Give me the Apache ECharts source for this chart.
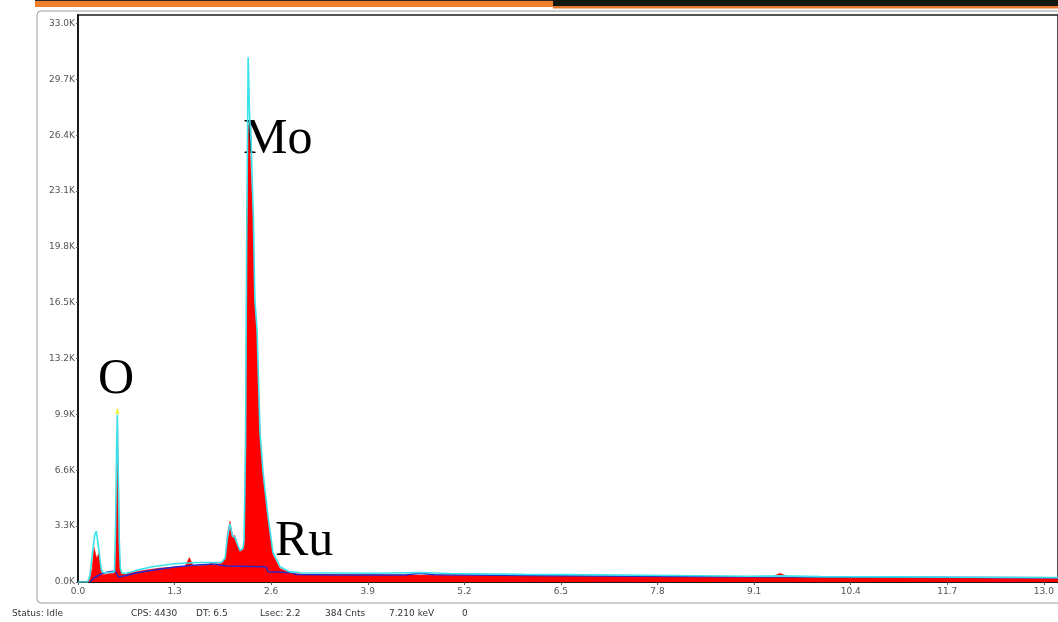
<!DOCTYPE html>
<html>
<head>
<meta charset="utf-8">
<script src="https://cdn.jsdelivr.net/npm/echarts@6/dist/echarts.min.js"></script>
<style>html,body{margin:0;padding:0;background:#fff;}#c{width:1058px;height:622px;}</style>
</head>
<body>
<div id="c"></div>
<script>
// ---- Data (energy keV, counts) ----
const specEnergy = [0.00,0.13,0.16,0.19,0.215,0.235,0.25,0.27,0.285,0.30,0.32,0.36,0.42,0.48,0.50,0.515,0.53,0.545,0.56,0.58,0.62,0.70,0.90,1.10,1.30,1.44,1.50,1.55,1.65,1.75,1.80,1.82,1.85,1.93,1.98,2.01,2.045,2.08,2.11,2.14,2.18,2.22,2.24,2.26,2.275,2.29,2.31,2.33,2.36,2.38,2.41,2.45,2.49,2.557,2.624,2.72,2.85,3.00,3.50,4.00,4.50,5.00,6.00,7.00,8.00,9.00,9.33,9.45,9.57,10.0,11.0,12.0,13.19];
const specCounts = [0,0,150,800,2050,1700,1400,1600,1750,900,450,450,500,520,700,5000,9800,6000,1500,500,450,550,700,820,880,920,1450,950,980,1000,1150,1020,1050,1100,1350,2800,3600,2700,2750,2300,1800,1900,2200,12000,21000,27000,26000,24000,21300,16400,14700,8700,6300,3700,1600,800,550,470,450,430,420,400,380,350,330,300,290,520,290,270,250,230,200];

const fitEnergy = [0.00,0.13,0.16,0.20,0.225,0.245,0.27,0.295,0.315,0.34,0.40,0.49,0.505,0.52,0.53,0.54,0.555,0.57,0.59,0.64,0.80,1.00,1.30,1.60,1.80,1.93,1.98,2.01,2.045,2.08,2.11,2.14,2.18,2.22,2.235,2.255,2.27,2.29,2.31,2.33,2.36,2.38,2.41,2.45,2.49,2.557,2.624,2.72,2.85,3.00,4.00,4.60,5.00,6.00,7.00,8.00,9.00,9.45,10.0,11.0,12.0,13.19];
const fitCounts = [0,0,400,1900,2800,3000,2300,1400,700,560,550,600,3000,8000,9900,7000,2500,800,550,500,700,900,1080,1150,1150,1150,1400,2600,3450,2700,2650,2300,1850,2000,2500,8000,20000,31000,27500,26000,21600,16700,14900,8800,6500,3900,1750,900,600,550,520,560,500,450,420,380,340,360,320,300,280,270];

const bgEnergy = [0.16,0.22,0.32,0.42,0.50,0.545,0.62,0.80,1.00,1.30,1.60,1.85,1.90,2.00,2.53,2.56,2.88,2.93,3.50,4.40,4.60,4.80,6.00,8.00,10.0,13.19];
const bgCounts = [0,250,500,600,650,300,350,550,700,880,1000,1070,1000,940,900,600,550,450,420,420,520,430,380,330,290,250];

const yTickStep = 3300;
const xTickStep = 1.3;

const zip = (a, b) => a.map((v, i) => [v, b[i]]);

const chart = echarts.init(document.getElementById('c'), null, {renderer: 'canvas'});
const labelFont = 'DejaVu Sans';
const option = {
  animation: false,
  backgroundColor: '#fff',
  grid: {left: 78, top: 15, right: 0, bottom: 40, show: true, borderColor: '#1a1a1a', borderWidth: 1.5, backgroundColor: '#fff'},
  xAxis: {
    type: 'value', min: 0, max: 13.19, interval: xTickStep,
    axisLine: {show: true, onZero: false, lineStyle: {color: '#1a1a1a', width: 2}},
    axisTick: {show: true, length: 3, lineStyle: {color: '#555'}},
    axisLabel: {showMaxLabel: false, color: '#555', fontSize: 9, fontFamily: labelFont, margin: 5,
      formatter: v => v.toFixed(1)},
    splitLine: {show: false}
  },
  yAxis: {
    type: 'value', min: 0, max: 33500, interval: yTickStep,
    axisLine: {show: true, lineStyle: {color: '#1a1a1a', width: 2}},
    axisTick: {show: true, length: 2, lineStyle: {color: '#555'}},
    axisLabel: {showMaxLabel: false, color: '#555', fontSize: 9, fontFamily: labelFont, margin: 3,
      formatter: v => (v / 1000).toFixed(1) + 'K'},
    splitLine: {show: false}
  },
  series: [
    {type: 'line', data: zip(specEnergy, specCounts), showSymbol: false, symbol: 'none',
      lineStyle: {width: 0.5, color: '#ff0000'}, areaStyle: {color: '#ff0000', opacity: 1}, z: 1},
    {type: 'line', data: zip(bgEnergy, bgCounts), showSymbol: false, symbol: 'none',
      lineStyle: {width: 1.5, color: '#2828c8'}, z: 2},
    {type: 'line', data: zip(fitEnergy, fitCounts), showSymbol: false, symbol: 'none',
      lineStyle: {width: 1.6, color: '#3ae2ec'}, z: 3,
      markPoint: {symbol: 'triangle', symbolSize: [4, 7], symbolOffset: [0, -4], itemStyle: {color: '#f0f040'}, label: {show: false},
        data: [{coord: [0.53, 9900]}]}}
  ],
  graphic: [
    {type: 'rect', shape: {x: 37, y: 11, width: 1040, height: 592, r: 4}, style: {fill: 'none', stroke: '#9a9a9a', lineWidth: 1}, z: -10},
    {type: 'rect', shape: {x: 35, y: 0, width: 520, height: 7}, style: {fill: '#f0802c'}},
    {type: 'rect', shape: {x: 35, y: 0, width: 520, height: 1}, style: {fill: '#2a2a2a'}},
    {type: 'rect', shape: {x: 553, y: 0, width: 505, height: 6}, style: {fill: '#151810'}},
    {type: 'rect', shape: {x: 553, y: 6, width: 505, height: 2.5}, style: {fill: '#e8782c'}},
    {type: 'text', left: 98, top: 355, style: {text: 'O', font: '50px "Liberation Serif"', fill: '#000'}},
    {type: 'text', left: 243, top: 115, style: {text: 'Mo', font: '50px "Liberation Serif"', fill: '#000'}},
    {type: 'text', left: 275, top: 517, style: {text: 'Ru', font: '50px "Liberation Serif"', fill: '#000'}},
    {type: 'text', left: 12, top: 609, style: {text: 'Status: Idle', font: '9px "DejaVu Sans"', fill: '#333'}},
    {type: 'text', left: 131, top: 609, style: {text: 'CPS: 4430', font: '9px "DejaVu Sans"', fill: '#333'}},
    {type: 'text', left: 196, top: 609, style: {text: 'DT: 6.5', font: '9px "DejaVu Sans"', fill: '#333'}},
    {type: 'text', left: 260, top: 609, style: {text: 'Lsec: 2.2', font: '9px "DejaVu Sans"', fill: '#333'}},
    {type: 'text', left: 325, top: 609, style: {text: '384 Cnts', font: '9px "DejaVu Sans"', fill: '#333'}},
    {type: 'text', left: 389, top: 609, style: {text: '7.210 keV', font: '9px "DejaVu Sans"', fill: '#333'}},
    {type: 'text', left: 462, top: 609, style: {text: '0', font: '9px "DejaVu Sans"', fill: '#333'}}
  ]
};
chart.setOption(option);
</script>
</body>
</html>
